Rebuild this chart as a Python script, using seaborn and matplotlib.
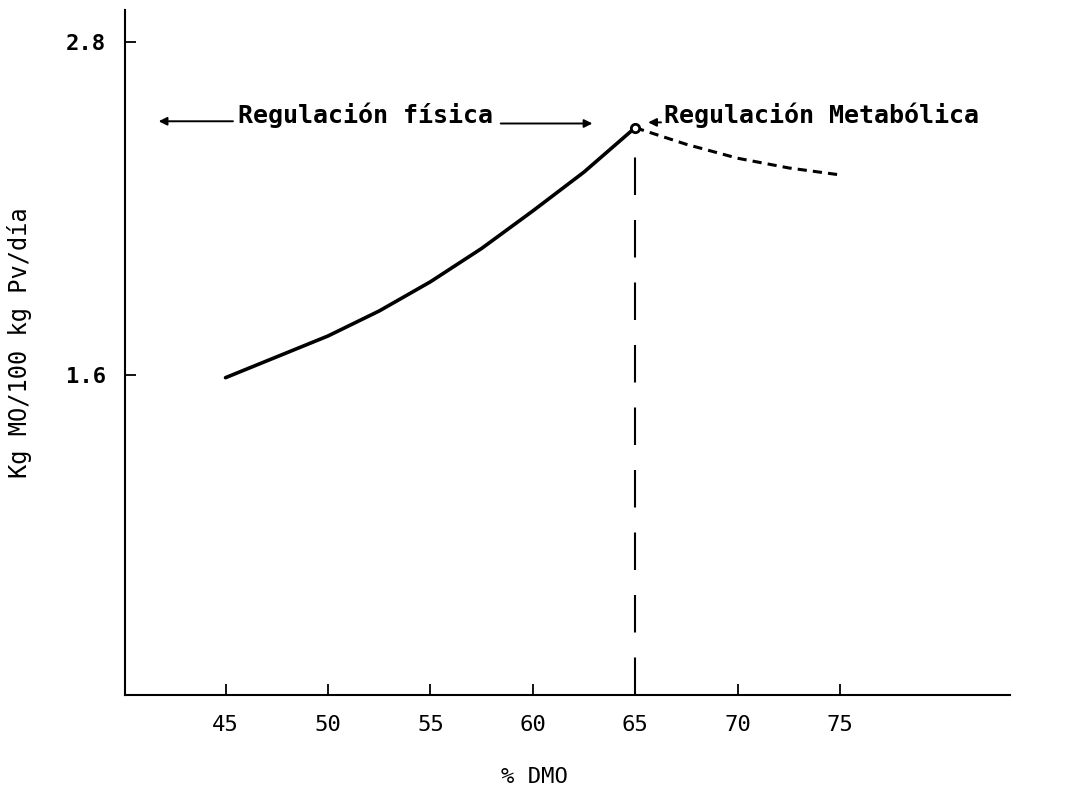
"""
Consumo voluntario vs. digestibilidad (% DMO): regulación física / metabólica.
"""
import numpy as np
import pandas as pd
import matplotlib
matplotlib.use("Agg")
import matplotlib.pyplot as plt
import seaborn as sns

# --- datos ---
dmo_fisica = [45, 47.5, 50, 52.5, 55, 57.5, 60, 62.5, 65]
consumo_fisica = [1.59, 1.665, 1.74, 1.83, 1.935, 2.055, 2.19, 2.33, 2.49]
dmo_metab = [65, 67.5, 70, 72.5, 75]
consumo_metab = [2.49, 2.43, 2.38, 2.345, 2.32]
punto_dmo = [65]
punto_consumo = [2.49]

x_ticks = [45, 50, 55, 60, 65, 70, 75]
y_ticks = [1.6, 2.8]
y_ticklabels = ["1.6", "2.8"]

sns.set_style("ticks")
plt.rcParams["font.family"] = ["DejaVu Sans Mono", "DejaVu Sans"]
plt.rcParams["text.color"] = "black"
plt.rcParams["axes.labelcolor"] = "black"
plt.rcParams["xtick.color"] = "black"
plt.rcParams["ytick.color"] = "black"

df_f = pd.DataFrame({"dmo": dmo_fisica, "consumo": consumo_fisica})
df_m = pd.DataFrame({"dmo": dmo_metab, "consumo": consumo_metab})

fig = plt.figure(figsize=(10.79, 8), dpi=100)
ax = fig.add_axes([0.116, 0.131, 0.82, 0.857])

sns.lineplot(data=df_f, x="dmo", y="consumo", ax=ax, color="black",
             linewidth=2.6)
sns.lineplot(data=df_m, x="dmo", y="consumo", ax=ax, color="black",
             linewidth=2.2, linestyle=(0, (3, 2)))
ax.plot(punto_dmo, punto_consumo, "o", ms=6, mfc="white", mec="black", mew=2)

# línea vertical discontinua en el óptimo
ax.vlines(punto_dmo[0], 0.447, punto_consumo[0] - 0.08, color="black",
          linewidth=1.5, linestyles=(0, (18, 12)))

ax.set_xlim(40.1, 83.3)
ax.set_ylim(0.447, 2.915)
ax.set_xticks(x_ticks)
ax.set_yticks(y_ticks)
ax.set_yticklabels(y_ticklabels)
ax.tick_params(axis="both", direction="in", length=8, width=1.3)
ax.tick_params(axis="x", pad=14, labelsize=16)
ax.tick_params(axis="y", pad=14, labelsize=16)
for lab in ax.get_yticklabels():
    lab.set_fontweight("bold")

sns.despine(ax=ax)
for s in ("left", "bottom"):
    ax.spines[s].set_linewidth(1.5)
    ax.spines[s].set_color("black")

ax.set_xlabel("% DMO", fontsize=16)
ax.set_ylabel("Kg MO/100 kg Pv/día", fontsize=17)
ax.xaxis.set_label_coords(0.463, -0.105)
ax.yaxis.set_label_coords(-0.105, 0.514)

# anotaciones
txt = dict(fontsize=18, fontweight="bold", color="black", va="bottom")
ax.text(45.6, 2.487, "Regulación física", **txt)
ax.text(66.4, 2.487, "Regulación Metabólica", **txt)
arr = dict(arrowstyle="-|>", color="black", lw=1.4, mutation_scale=12)
ax.annotate("", xy=(41.6, 2.513), xytext=(45.5, 2.513), arrowprops=arr)
ax.annotate("", xy=(63.05, 2.505), xytext=(58.3, 2.505), arrowprops=arr)
ax.annotate("", xy=(65.5, 2.509), xytext=(66.4, 2.509), arrowprops=arr)

fig.savefig("out.png", dpi=100)
